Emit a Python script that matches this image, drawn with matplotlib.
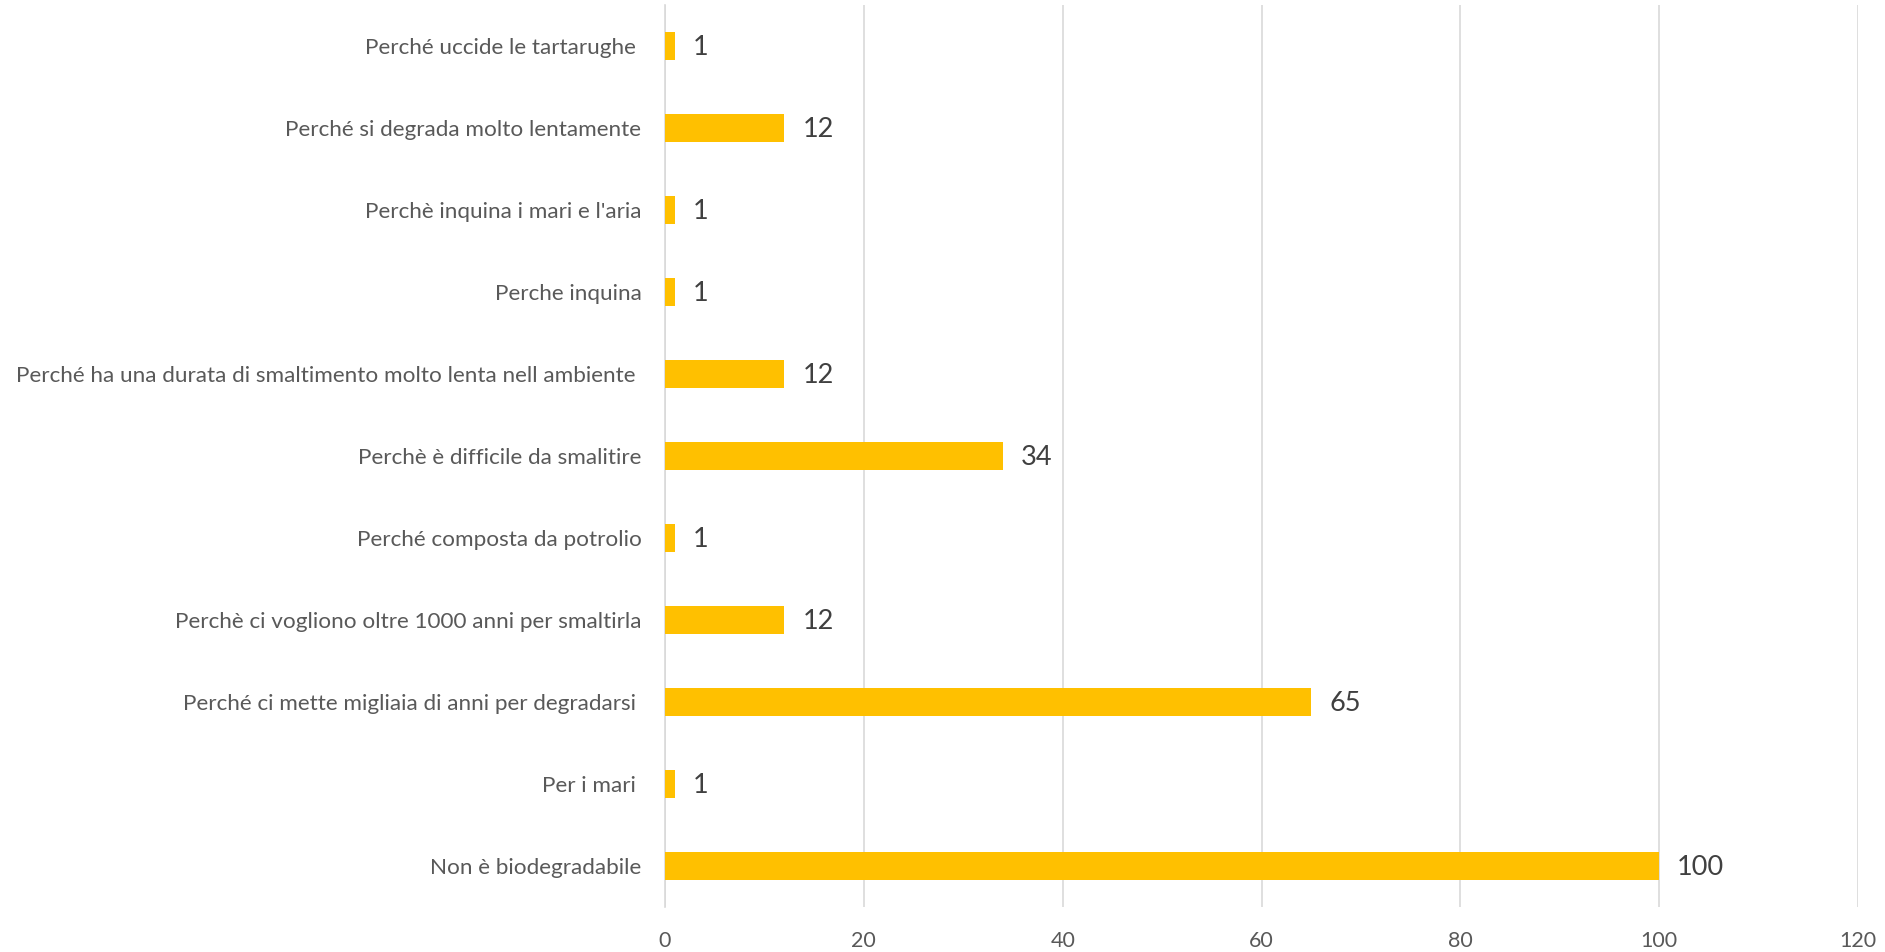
import numpy as np
import matplotlib.pyplot as plt

# categories listed bottom to top, as Excel draws them
categories = [
    "Non è biodegradabile",
    "Per i mari ",
    "Perché ci mette migliaia di anni per degradarsi ",
    "Perchè ci vogliono oltre 1000 anni per smaltirla",
    "Perché composta da potrolio",
    "Perchè è difficile da smalitire",
    "Perché ha una durata di smaltimento molto lenta nell ambiente ",
    "Perche inquina",
    "Perchè inquina i mari e l'aria",
    "Perché si degrada molto lentamente",
    "Perché uccide le tartarughe ",
]
values = [100, 1, 65, 12, 1, 34, 12, 1, 1, 12, 1]
xticks = [0, 20, 40, 60, 80, 100, 120]

plt.rcParams['font.family'] = ['Lato', 'DejaVu Sans']

fig = plt.figure(figsize=(18.85, 9.52), dpi=100, facecolor='white')
ax = fig.add_axes([0.3528, 0.0473, 0.6329, 0.9474])

y = np.arange(len(categories))
ax.barh(y, values, height=0.35, color='#FFC000', zorder=3)

for yi, v in zip(y, values):
    ax.annotate(str(v), (v, yi), xytext=(13, -1), textcoords='offset points',
                va='center', ha='left', fontsize=19.5, color='#404040')

ax.set_xlim(0, 120)
ax.set_ylim(-0.5, len(categories) - 0.5)
ax.set_xticks(xticks)
ax.set_yticks(y)
ax.set_yticklabels(categories)
ax.grid(axis='x', color='#d9d9d9', linewidth=1.2, zorder=0)

for s in ['top', 'right', 'bottom']:
    ax.spines[s].set_visible(False)
ax.spines['left'].set_color('#d9d9d9')
ax.spines['left'].set_linewidth(1.2)

ax.tick_params(axis='y', length=0, pad=17, labelsize=16.2, labelcolor='#595959')
ax.tick_params(axis='x', length=0, pad=17, labelsize=15.5, labelcolor='#595959')

fig.savefig('out.png', dpi=100, facecolor='white')
